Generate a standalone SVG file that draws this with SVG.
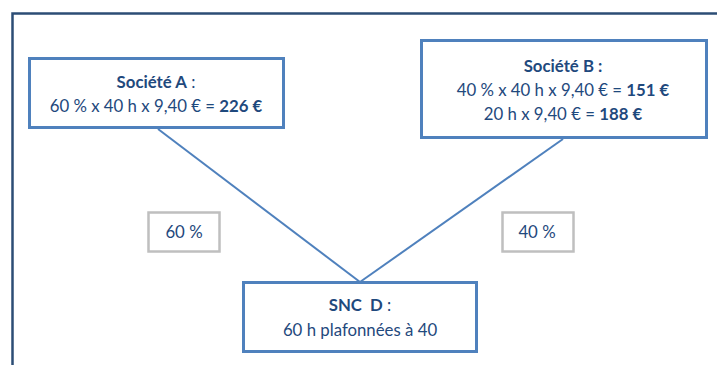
<svg xmlns="http://www.w3.org/2000/svg" width="717" height="365" viewBox="0 0 717 365">
<style>
.box{fill:#fff;stroke:#4f81bd;stroke-width:3}
.lbl{fill:#fff;stroke:#bfbfbf;stroke-width:2.5}
text{font-family:Lato,"Liberation Sans",sans-serif;font-size:16.8px;fill:#1f497d;text-anchor:middle;white-space:pre}
.b{font-weight:bold}
.conn{stroke:#4f81bd;stroke-width:2;fill:none}
</style>
<rect width="717" height="365" fill="#fff"/>
<path d="M12.5 365 V13.5 H717" fill="none" stroke="#2c4d75" stroke-width="2.5"/>
<g id="connectors">
<line class="conn" x1="158" y1="129" x2="360" y2="282"/>
<line class="conn" x1="563" y1="139" x2="360" y2="282"/>
</g>
<g id="societeA">
<rect class="box" x="29.5" y="58.5" width="254" height="69"/>
<text x="156" y="88"><tspan class="b">Société A</tspan> :</text>
<text x="156" y="112">60 % x 40 h x 9,40 € = <tspan class="b">226 €</tspan></text>
</g>
<g id="societeB">
<rect class="box" x="421.5" y="40.5" width="285" height="97"/>
<text x="563" y="72" class="b">Société B :</text>
<text x="563" y="96">40 % x 40 h x 9,40 € = <tspan class="b">151 €</tspan></text>
<text x="563" y="120">20 h x 9,40 € = <tspan class="b">188 €</tspan></text>
</g>
<g id="sncD">
<rect class="box" x="243.5" y="282.5" width="233" height="69"/>
<text x="360" y="311"><tspan class="b">SNC  D</tspan> :</text>
<text x="360" y="336">60 h plafonnées à 40</text>
</g>
<g id="label60">
<rect class="lbl" x="148.5" y="212.5" width="71" height="39"/>
<text x="184" y="238">60 %</text>
</g>
<g id="label40">
<rect class="lbl" x="502.5" y="212.5" width="71" height="39"/>
<text x="537" y="238">40 %</text>
</g>
</svg>
